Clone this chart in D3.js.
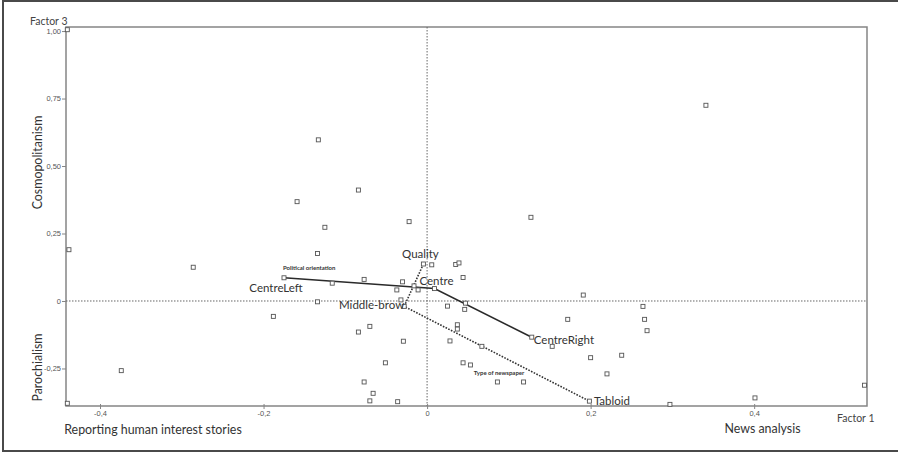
<!DOCTYPE html>
<html>
<head>
<meta charset="utf-8">
<script src="https://cdn.jsdelivr.net/npm/d3@7"></script>
<style>
  html, body { margin: 0; padding: 0; background: #fff; }
  svg { display: block; font-family: Lato, "Open Sans", sans-serif; }
</style>
</head>
<body>
<svg id="chart" width="898" height="452"></svg>
<script>
// Individual newspaper items (Factor 1, Factor 3)
const itemX = [-0.44, -0.438, -0.286, -0.159, -0.44, -0.374, -0.188, -0.133, -0.084, -0.125,
  -0.022, 0.127, 0.341, -0.134, 0.0057, 0.035, 0.039, -0.116, -0.077, -0.03,
  0.044, -0.037, -0.016, -0.011, -0.032, -0.134, 0.047, 0.025, 0.046, 0.191,
  0.172, -0.084, -0.07, 0.037, 0.037, -0.029, 0.028, 0.067, 0.153, 0.2,
  -0.051, 0.044, 0.053, -0.077, 0.086, 0.118, -0.066, -0.07, -0.036, 0.264,
  0.266, 0.269, 0.238, 0.22, 0.297, 0.401, 0.535];
const itemY = [1.005, 0.19, 0.125, 0.368, -0.379, -0.258, -0.057, 0.597, 0.411, 0.273,
  0.294, 0.31, 0.725, 0.176, 0.134, 0.135, 0.141, 0.066, 0.08, 0.071,
  0.087, 0.041, 0.056, 0.041, 0.004, -0.003, -0.008, -0.019, -0.031, 0.022,
  -0.068, -0.115, -0.094, -0.088, -0.104, -0.149, -0.148, -0.168, -0.168, -0.21,
  -0.229, -0.229, -0.237, -0.3, -0.3, -0.3, -0.342, -0.37, -0.373, -0.02,
  -0.068, -0.11, -0.201, -0.27, -0.383, -0.359, -0.312];

// Category centroids of the two supplementary variables
const politicalNames = ["CentreLeft", "Centre", "CentreRight"];
const politicalX = [-0.175, 0.009, 0.128];
const politicalY = [0.086, 0.046, -0.134];

const paperNames = ["Quality", "Middle-brow", "Tabloid"];
const paperX = [-0.0045, -0.028, 0.1985];
const paperY = [0.137, -0.02, -0.371];

// Axis ticks
const xTicks = [-0.4, -0.2, 0, 0.2, 0.4];
const xTickLabels = ["-0,4", "-0,2", "0", "0,2", "0,4"];
const yTicks = [-0.25, 0, 0.25, 0.5, 0.75, 1.0];
const yTickLabels = ["-0,25", "0", "0,25", "0,50", "0,75", "1,00"];

const svg = d3.select("#chart");
const W = 898, H = 452;
const plot = { left: 66, right: 867, top: 27, bottom: 406 };

const x = d3.scaleLinear().domain([-0.4416, 0.538]).range([plot.left, plot.right]);
const y = d3.scaleLinear().domain([-0.389, 1.015]).range([plot.bottom, plot.top]);

const axisGrey = "#858585";

// Outer frame (left, top, bottom)
svg.append("path")
  .attr("d", `M${W},1 H3 V451 H${W}`)
  .attr("fill", "none").attr("stroke", "#4a4a4a").attr("stroke-width", 2);

// Plot box
svg.append("rect")
  .attr("x", plot.left).attr("y", plot.top)
  .attr("width", plot.right - plot.left).attr("height", plot.bottom - plot.top)
  .attr("fill", "none").attr("stroke", axisGrey).attr("stroke-width", 1.5);

// Zero reference lines
svg.append("line")
  .attr("x1", plot.left).attr("x2", plot.right)
  .attr("y1", y(0)).attr("y2", y(0))
  .attr("stroke", "#666").attr("stroke-width", 1).attr("stroke-dasharray", "1.5,1.5");
svg.append("line")
  .attr("x1", x(0)).attr("x2", x(0))
  .attr("y1", plot.top).attr("y2", plot.bottom)
  .attr("stroke", "#666").attr("stroke-width", 1).attr("stroke-dasharray", "1.5,1.5");

// Axes
const xAxis = d3.axisBottom(x).tickValues(xTicks)
  .tickFormat((d, i) => xTickLabels[i]).tickSize(3).tickPadding(1.5);
const gx = svg.append("g").attr("transform", `translate(0,${plot.bottom})`).call(xAxis);
gx.select(".domain").remove();
gx.selectAll(".tick line").attr("stroke", axisGrey).attr("y1", -2).attr("stroke-width", 1);
gx.selectAll(".tick text").attr("fill", "#555").attr("font-size", 7.5);

const yAxis = d3.axisLeft(y).tickValues(yTicks)
  .tickFormat((d, i) => yTickLabels[i]).tickSize(4).tickPadding(1);
const gy = svg.append("g").attr("transform", `translate(${plot.left},0)`).call(yAxis);
gy.select(".domain").remove();
gy.selectAll(".tick line").attr("stroke", axisGrey).attr("stroke-width", 1);
gy.selectAll(".tick text").attr("fill", "#555").attr("font-size", 7.5);

// Connecting lines for the supplementary variables
const line = d3.line().x(d => x(d[0])).y(d => y(d[1]));
svg.append("path")
  .datum(politicalX.map((v, i) => [v, politicalY[i]]))
  .attr("d", line).attr("fill", "none")
  .attr("stroke", "#2a2a2a").attr("stroke-width", 1.6);
svg.append("path")
  .datum(paperX.map((v, i) => [v, paperY[i]]))
  .attr("d", line).attr("fill", "none")
  .attr("stroke", "#333").attr("stroke-width", 1.6).attr("stroke-dasharray", "1.6,1.4");

// Item markers: small hollow squares
const allX = itemX.concat(politicalX, paperX);
const allY = itemY.concat(politicalY, paperY);
svg.append("g").selectAll("rect")
  .data(allX.map((v, i) => [v, allY[i]]))
  .join("rect")
  .attr("x", d => x(d[0]) - 2).attr("y", d => y(d[1]) - 2)
  .attr("width", 4).attr("height", 4)
  .attr("fill", "#fff").attr("stroke", "#555").attr("stroke-width", 0.9);

// Category labels
const catFont = 11.5;
const catLabel = (name, px, py, dx, dy, anchor) =>
  svg.append("text").attr("x", x(px) + dx).attr("y", y(py) + dy)
    .attr("text-anchor", anchor).attr("dominant-baseline", "central")
    .attr("font-size", catFont).attr("fill", "#333").text(name);

catLabel(politicalNames[0], politicalX[0], politicalY[0], -8, 9.5, "middle");
catLabel(politicalNames[1], politicalX[1], politicalY[1], -15, -8, "start");
catLabel(politicalNames[2], politicalX[2], politicalY[2], 2, 2, "start");
catLabel(paperNames[0], paperX[0], paperY[0], -3, -11, "middle");
catLabel(paperNames[1], paperX[1], paperY[1], 0, -1.5, "end");
catLabel(paperNames[2], paperX[2], paperY[2], 4.5, -0.5, "start");

// Variable names
svg.append("text").attr("x", x(politicalX[0]) - 1).attr("y", y(politicalY[0]) - 10)
  .attr("font-size", 6).attr("font-weight", "bold").attr("fill", "#333")
  .attr("dominant-baseline", "central").text("Political orientation");
svg.append("text").attr("x", 499).attr("y", 372)
  .attr("text-anchor", "middle")
  .attr("font-size", 6).attr("font-weight", "bold").attr("fill", "#333")
  .attr("dominant-baseline", "central").text("Type of newspaper");

// Axis names
svg.append("text").attr("x", 30).attr("y", 20.5)
  .attr("font-size", 10.5).attr("fill", "#444").attr("dominant-baseline", "central").text("Factor 3");
svg.append("text").attr("x", 874.5).attr("y", 417.5).attr("text-anchor", "end")
  .attr("font-size", 10.5).attr("fill", "#444").attr("dominant-baseline", "central").text("Factor 1");

// Pole descriptions
const pole = (txt, px, py, rot) => svg.append("text")
  .attr("transform", `translate(${px},${py}) rotate(${rot})`)
  .attr("text-anchor", "middle").attr("dominant-baseline", "central")
  .attr("font-size", 12.4).attr("fill", "#333").text(txt);
pole("Cosmopolitanism", 37, 162.5, -90);
pole("Parochialism", 37, 367.5, -90);
pole("Reporting human interest stories", 153, 429, 0);
pole("News analysis", 762.5, 428.5, 0);
</script>
</body>
</html>
